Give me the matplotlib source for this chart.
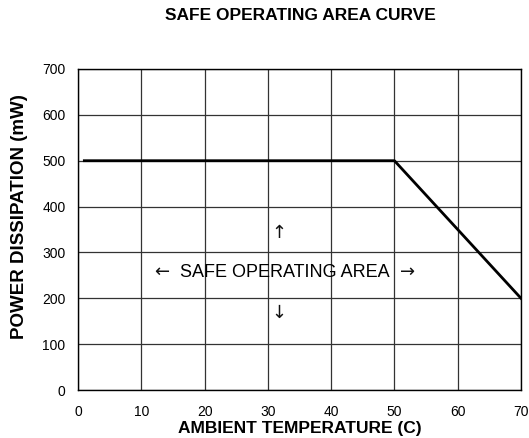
import matplotlib
matplotlib.use("Agg")
import matplotlib.pyplot as plt

plt.rcParams['font.family'] = ['Liberation Sans', 'DejaVu Sans']

# derating curve points
temp_c = [1, 50, 70]
power_mw = [500, 500, 200]

x_ticks = [0, 10, 20, 30, 40, 50, 60, 70]
y_ticks = [0, 100, 200, 300, 400, 500, 600, 700]

W, H = 529, 438
fig = plt.figure(figsize=(W / 100, H / 100), dpi=100)
ax = fig.add_axes([78 / W, 1 - 390 / H, 443 / W, 321 / H])

ax.plot(temp_c, power_mw, color='black', linewidth=2)

ax.set_xlim(0, 70)
ax.set_ylim(0, 700)
ax.set_xticks(x_ticks)
ax.set_yticks(y_ticks)
ax.tick_params(length=0, labelsize=10)
ax.tick_params(axis='y', pad=9)
ax.tick_params(axis='x', pad=11)
ax.grid(True, color='#333333', linewidth=0.9)
ax.set_axisbelow(True)
for s in ax.spines.values():
    s.set_color('black')
    s.set_linewidth(1)

# axis labels and title placed in figure pixels
fig.text(300 / W, 1 - 428 / H, 'AMBIENT TEMPERATURE (C)', ha='center', va='center',
         fontsize=12.5, fontweight='bold')
fig.text(20 / W, 1 - 217 / H, 'POWER DISSIPATION (mW)', ha='center', va='center',
         rotation=90, fontsize=13.5, fontweight='bold')
fig.text(300 / W, 1 - 15 / H, 'SAFE OPERATING AREA CURVE', ha='center', va='center',
         fontsize=12.5, fontweight='bold')

# annotation in the middle of the safe area
ax.text(32.7, 257, 'SAFE OPERATING AREA', ha='center', va='center', fontsize=13)
arrow_kw = dict(ha='center', va='center', fontsize=13, family='DejaVu Sans', color='#111111')
ax.text(13.3, 257, '\u2190', **arrow_kw)
ax.text(52.0, 257, '\u2192', **arrow_kw)
ax.text(31.8, 342, '\u2191', **arrow_kw)
ax.text(31.8, 168, '\u2193', **arrow_kw)

fig.savefig('out.png', dpi=100)
